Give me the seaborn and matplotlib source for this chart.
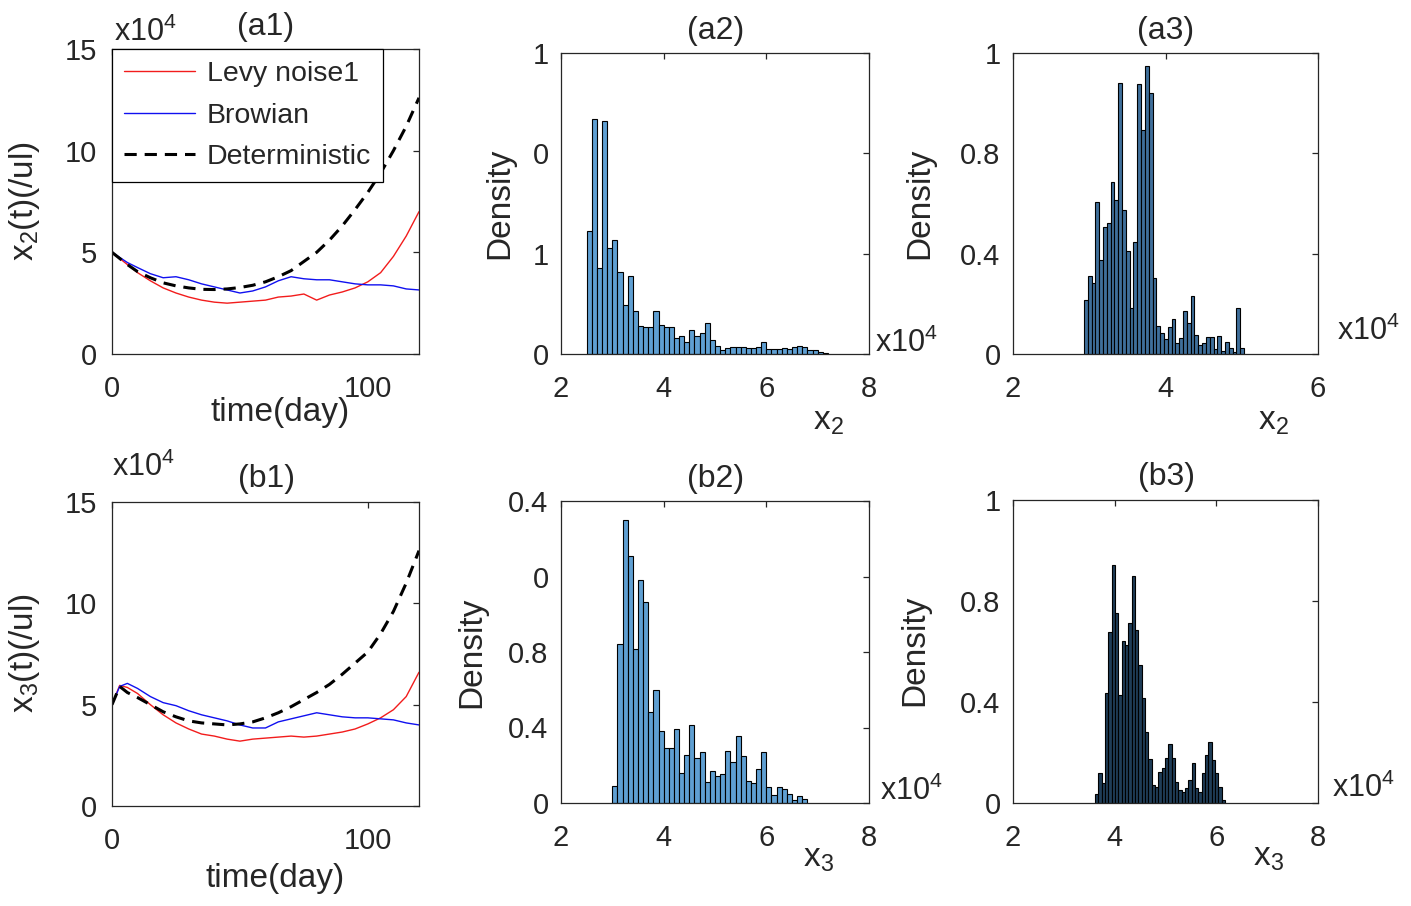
import numpy as np
import pandas as pd
import seaborn as sns
import matplotlib.pyplot as plt

# ---- data (x values in units of 1e4 /ul) ----
days = [0, 3, 6, 10, 15, 20, 25, 30, 35, 40, 45, 50, 55, 60, 65, 70, 75, 80,
        85, 90, 95, 100, 105, 110, 115, 120]

a1_levy = [5.0, 4.7, 4.4, 4.0, 3.6, 3.25, 3.0, 2.8, 2.65, 2.55, 2.5, 2.55, 2.6,
           2.65, 2.8, 2.85, 2.95, 2.65, 2.9, 3.05, 3.25, 3.55, 4.0, 4.8, 5.8, 7.0]
a1_brown = [5.0, 4.75, 4.5, 4.25, 3.95, 3.75, 3.8, 3.65, 3.45, 3.3, 3.15, 3.0, 3.1,
            3.3, 3.6, 3.8, 3.7, 3.65, 3.65, 3.55, 3.45, 3.4, 3.4, 3.35, 3.2, 3.15]
a1_det = [5.0, 4.7, 4.4, 4.05, 3.75, 3.5, 3.35, 3.25, 3.18, 3.17, 3.2, 3.27, 3.38,
          3.55, 3.8, 4.1, 4.55, 5.0, 5.6, 6.3, 7.1, 7.95, 8.9, 10.0, 11.2, 12.6]

b1_levy = [5.0, 5.95, 5.85, 5.55, 5.0, 4.5, 4.1, 3.8, 3.55, 3.45, 3.3, 3.2, 3.3,
           3.35, 3.4, 3.45, 3.4, 3.45, 3.55, 3.65, 3.8, 4.05, 4.35, 4.75, 5.4, 6.6]
b1_brown = [5.0, 5.9, 6.05, 5.8, 5.4, 5.1, 4.95, 4.7, 4.5, 4.35, 4.2, 4.0, 3.85,
            3.85, 4.15, 4.3, 4.45, 4.6, 4.5, 4.4, 4.35, 4.35, 4.3, 4.25, 4.1, 4.0]
b1_det = [5.0, 5.9, 5.6, 5.35, 5.0, 4.65, 4.4, 4.2, 4.1, 4.05, 4.0, 4.05, 4.15,
          4.35, 4.6, 4.9, 5.25, 5.6, 6.0, 6.5, 7.05, 7.6, 8.5, 9.6, 11.0, 12.6]

# histograms: first bin edge, bin width, bar heights
a2_start, a2_width = 2.5, 0.1
a2_heights = [0.614, 1.171, 0.427, 1.161, 0.527, 0.568, 0.407, 0.244, 0.389, 0.216,
              0.141, 0.133, 0.136, 0.213, 0.145, 0.136, 0.136, 0.080, 0.090, 0.058,
              0.120, 0.090, 0.106, 0.156, 0.070, 0.042, 0.020, 0.028, 0.037, 0.033,
              0.033, 0.028, 0.028, 0.037, 0.061, 0.023, 0.023, 0.027, 0.028, 0.023,
              0.033, 0.040, 0.033, 0.020, 0.020, 0.012, 0.003]

a3_start, a3_width = 2.93, 0.05
a3_heights = [0.215, 0.312, 0.282, 0.607, 0.375, 0.508, 0.521, 0.687, 0.614, 1.082,
              0.574, 0.412, 0.182, 0.448, 1.075, 0.893, 1.148, 1.039, 0.302, 0.112,
              0.085, 0.059, 0.109, 0.141, 0.043, 0.062, 0.170, 0.122, 0.233, 0.076,
              0.036, 0.043, 0.066, 0.066, 0.019, 0.073, 0.013, 0.049, 0.023, 0.009,
              0.182, 0.023]

b2_start, b2_width = 3.0, 0.1
b2_heights = [0.092, 0.841, 1.501, 1.309, 0.816, 1.181, 1.067, 0.484, 0.599, 0.381,
              0.290, 0.293, 0.390, 0.157, 0.254, 0.413, 0.237, 0.272, 0.113, 0.171,
              0.145, 0.152, 0.277, 0.219, 0.357, 0.251, 0.118, 0.104, 0.178, 0.270,
              0.087, 0.044, 0.087, 0.072, 0.046, 0.016, 0.037, 0.021]

b3_start, b3_width = 3.61, 0.0656
b3_heights = [0.034, 0.117, 0.078, 0.434, 0.678, 0.942, 0.751, 0.428, 0.643, 0.626,
              0.711, 0.900, 0.685, 0.546, 0.414, 0.282, 0.174, 0.071, 0.065, 0.124,
              0.137, 0.177, 0.234, 0.177, 0.085, 0.051, 0.042, 0.058, 0.091, 0.157,
              0.058, 0.042, 0.117, 0.190, 0.240, 0.170, 0.117, 0.065, 0.012]

# tick labels as printed in the figure
a2_yticks, a2_yticklabels = [0, 0.5, 1.0, 1.5], ["0", "1", "0", "1"]
a3_yticks, a3_yticklabels = [0, 0.4, 0.8, 1.2], ["0", "0.4", "0.8", "1"]
b2_yticks, b2_yticklabels = [0, 0.4, 0.8, 1.2, 1.6], ["0", "0.4", "0.8", "0", "0.4"]
b3_yticks, b3_yticklabels = [0, 0.4, 0.8, 1.2], ["0", "0.4", "0.8", "1"]

# ---- style ----
sns.set_style("white")
plt.rcParams['font.family'] = ['Liberation Sans', 'DejaVu Sans']
plt.rcParams['mathtext.fontset'] = 'custom'
plt.rcParams['mathtext.rm'] = 'Liberation Sans'
plt.rcParams['mathtext.it'] = 'Liberation Sans'
TXT = '#262626'
FS = 21      # tick labels
LFS = 24     # axis labels
TFS = 23     # titles

W, H = 1411, 906
fig = plt.figure(figsize=(W / 100, H / 100), dpi=100)


def box(l, t, r, b):
    return fig.add_axes([l / W, 1 - b / H, (r - l) / W, (b - t) / H])


def ftext(x, y, s, **kw):
    kw.setdefault('fontsize', LFS)
    kw.setdefault('color', TXT)
    fig.text(x / W, 1 - y / H, s, **kw)


def frame(ax, xpad=15, ypad=10):
    for sp in ax.spines.values():
        sp.set_visible(True)
        sp.set_color(TXT)
        sp.set_linewidth(0.9)
    ax.tick_params(direction='in', length=4, width=0.9, top=True, right=True,
                   colors=TXT, labelsize=FS)
    ax.tick_params(axis='x', pad=xpad)
    ax.tick_params(axis='y', pad=ypad)
    ax.set_xlabel("")
    ax.set_ylabel("")


ax_a1 = box(112, 49, 419, 354)
ax_a2 = box(561, 53, 869, 354)
ax_a3 = box(1013, 53, 1318, 354)
ax_b1 = box(112, 502, 419, 806)
ax_b2 = box(561, 501, 869, 803)
ax_b3 = box(1013, 500, 1318, 803)

dash = (0, (4, 2.6))

# ---- sample paths ----
for ax, lev, bro, det, show in [(ax_a1, a1_levy, a1_brown, a1_det, True),
                                (ax_b1, b1_levy, b1_brown, b1_det, False)]:
    sns.lineplot(x=days, y=lev, ax=ax, color='#f21c1c', lw=1.0, label='Levy noise1', legend=False)
    sns.lineplot(x=days, y=bro, ax=ax, color='#1010f0', lw=1.0, label='Browian', legend=False)
    sns.lineplot(x=days, y=det, ax=ax, color='black', lw=2.2, linestyle=dash,
                 label='Deterministic', legend=False)
    ax.set_xlim(0, 120)
    ax.set_ylim(0, 15)
    ax.set_xticks([0, 100])
    ax.set_yticks([0, 5, 10, 15])
    frame(ax, xpad=15, ypad=11)
    if show:
        leg = ax.legend(loc='upper left', borderaxespad=0, fontsize=20.5,
                        frameon=True, fancybox=False, edgecolor='black',
                        handlelength=2.5, handletextpad=0.4, labelspacing=0.55,
                        borderpad=0.42)
        leg.get_frame().set_linewidth(0.9)
        leg.get_frame().set_alpha(1)

# ---- histograms ----
hists = [
    (ax_a2, a2_start, a2_width, a2_heights, '#5f9fd2', (2, 8), [2, 4, 6, 8], a2_yticks, a2_yticklabels),
    (ax_a3, a3_start, a3_width, a3_heights, '#3f6f9a', (2, 6), [2, 4, 6], a3_yticks, a3_yticklabels),
    (ax_b2, b2_start, b2_width, b2_heights, '#5f9fd2', (2, 8), [2, 4, 6, 8], b2_yticks, b2_yticklabels),
    (ax_b3, b3_start, b3_width, b3_heights, '#1f3d57', (2, 8), [2, 4, 6, 8], b3_yticks, b3_yticklabels),
]
for ax, start, width, heights, col, xlim, xt, yt, ytl in hists:
    n = len(heights)
    centers = start + width * (np.arange(n) + 0.5)
    df = pd.DataFrame({'x': centers, 'h': heights})
    sns.histplot(data=df, x='x', weights='h', binwidth=width,
                 binrange=(start, start + n * width), ax=ax, color=col,
                 alpha=1, edgecolor='black', linewidth=0.8)
    ax.set_xlim(*xlim)
    ax.set_ylim(yt[0], yt[-1])
    ax.set_xticks(xt)
    ax.set_yticks(yt)
    ax.set_yticklabels(ytl)
    frame(ax, xpad=15, ypad=9)

# ---- titles ----
ftext(266, 27, "(a1)", ha='center', va='center', fontsize=TFS)
ftext(716, 31, "(a2)", ha='center', va='center', fontsize=TFS)
ftext(1166, 31, "(a3)", ha='center', va='center', fontsize=TFS)
ftext(266, 479, "(b1)", ha='center', va='center', fontsize=TFS)
ftext(716, 479, "(b2)", ha='center', va='center', fontsize=TFS)
ftext(1166, 477, "(b3)", ha='center', va='center', fontsize=TFS)

# ---- axis labels ----
ftext(25, 201, "x$_2$(t)(/ul)", rotation=90, ha='center', va='center')
ftext(25, 653, "x$_3$(t)(/ul)", rotation=90, ha='center', va='center')
ftext(280, 413, "time(day)", ha='center', va='center')
ftext(275, 878, "time(day)", ha='center', va='center')
for x, y in [(500, 203), (920, 203), (472, 652), (915, 650)]:
    ftext(x, y, "Density", rotation=90, ha='center', va='center')
ftext(813, 430, "x$_2$", ha='left', va='baseline')
ftext(1258, 430, "x$_2$", ha='left', va='baseline')
ftext(803, 867, "x$_3$", ha='left', va='baseline')
ftext(1253, 866, "x$_3$", ha='left', va='baseline')

# ---- exponent notes ----
for x, y in [(114, 41), (112, 476), (875, 352), (1337, 340), (880, 800), (1332, 797)]:
    ftext(x, y, "x10$^4$", ha='left', va='baseline', fontsize=22)

fig.savefig("out.png", dpi=100)
